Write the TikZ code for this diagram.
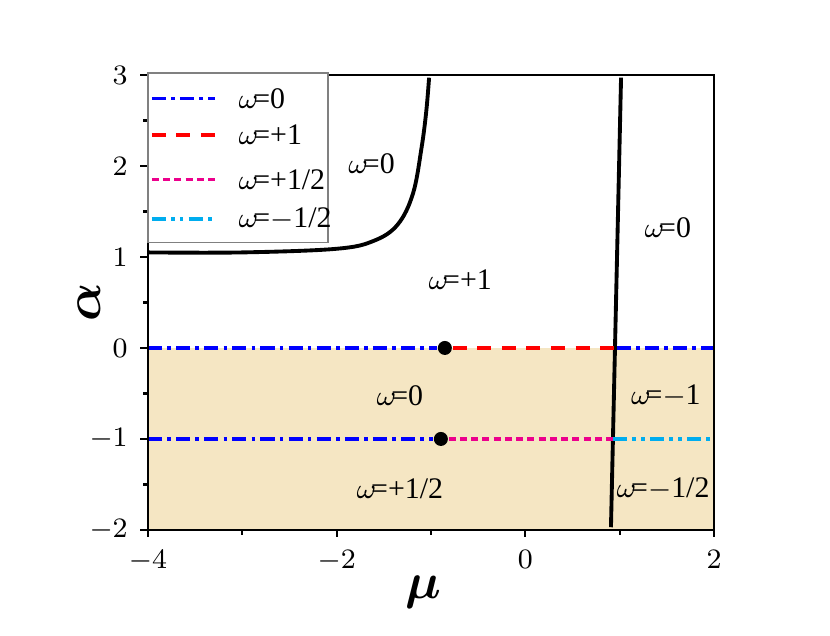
\documentclass[tikz,border=0pt]{standalone}
\usepackage{amsmath,amssymb,bm}
\usepackage{fontspec}
\setmainfont{Liberation Serif}
\usetikzlibrary{positioning}
\begin{document}
\begin{tikzpicture}[x=0.9433cm, y=0.91cm,
		% line styles for the phase boundaries
		zeroline/.style={blue, line width=1pt, dash pattern=on 4pt off 1.5pt on 1pt off 1.5pt},
		oneline/.style={red, line width=1pt, dash pattern=on 4pt off 3pt},
		halfline/.style={magenta, line width=1pt, dash pattern=on 2pt off 1.2pt},
		mhalfline/.style={cyan, line width=1pt, dash pattern=on 4pt off 1.5pt on 1pt off 1.5pt on 1pt off 1.5pt},
		border/.style={black, line width=1.1pt},
		region/.style={font=\fontsize{8.5}{10}\selectfont},
		ticklab/.style={font=\fontsize{8.5}{10}\selectfont},
		dot/.style={circle, fill=black, inner sep=0pt, minimum size=0.14cm},
		]
		\useasboundingbox (-5.569,-3.165) rectangle (3.230,3.824);
		% === shaded lower half ===
		\fill[fill={rgb,255:red,245;green,230;blue,195}] (-4,-2) rectangle (2,0);

		% === phase boundaries ===
		\draw[border] plot[smooth, tension=0.6] coordinates {(-4,1.05) (-3,1.05) (-2,1.09) (-1.6,1.18) (-1.35,1.36) (-1.19,1.7) (-1.1,2.2) (-1.05,2.6) (-1.02,2.97)};
		\coordinate (rb) at (0.908,-1.97);
		\coordinate (rt) at (1.015,2.97);
		\draw[border] (rb) -- (rt);

		% === critical points ===
		\node[dot] (p0) at (-0.853,0) {};
		\node[dot] (p1) at (-0.895,-1) {};
		\coordinate (l0) at (-4,0);
		\coordinate (c0) at (0.97,0);
		\coordinate (r0) at (2,0);
		\coordinate (l1) at (-4,-1);
		\coordinate (c1) at (0.93,-1);
		\coordinate (r1) at (2,-1);
		\draw[zeroline] (l0) -- (p0);
		\draw[oneline] (p0) -- (c0);
		\draw[zeroline] (c0) -- (r0);
		\draw[zeroline] (l1) -- (p1);
		\draw[halfline] (p1) -- (c1);
		\draw[mhalfline] (c1) -- (r1);

		% === frame and ticks ===
		\draw[line width=0.6pt] (-4,-2) rectangle (2,3);
		\foreach \m in {-4,-2,0,2}
			\draw[line width=0.6pt] (\m,-2) -- ++(0,-0.08) node[ticklab, below] {$\m$};
		\foreach \m in {-3,-1,1}
			\draw[line width=0.6pt] (\m,-2) -- ++(0,-0.05);
		\foreach \a in {-2,...,3}
			\draw[line width=0.6pt] (-4,\a) -- ++(-0.08,0) node[ticklab, left] {$\a$};
		\foreach \a in {-1.5,-0.5,0.5,1.5,2.5}
			\draw[line width=0.6pt] (-4,\a) -- ++(-0.05,0);
		\node[font=\fontsize{14}{16}\selectfont] (mu) at (-1.08,-2.68) {$\bm{\mu}$};
		\node[font=\fontsize{14}{16}\selectfont, rotate=90] (alpha) at (-4.62,0.5) {$\bm{\alpha}$};

		% === region labels ===
		\node[region] at (-1.63,2.02) {$\omega$\!=0};
		\node[region] at (-0.69,0.75) {$\omega$\!=+1};
		\node[region] at (1.51,1.32) {$\omega$\!=0};
		\node[region] at (-1.33,-0.53) {$\omega$\!=0};
		\node[region] at (1.49,-0.53) {$\omega$\!=$-$1};
		\node[region] at (-1.33,-1.55) {$\omega$\!=+1/2};
		\node[region] at (1.46,-1.55) {$\omega$\!=$-$1/2};

		% === legend ===
		\draw[fill=white, draw=gray, line width=0.5pt] (-4,1.16) rectangle (-2.09,3.02);
		\foreach \y/\s/\t [count=\i] in {2.74/zeroline/{0}, 2.34/oneline/{+1}, 1.85/halfline/{+1/2}, 1.42/mhalfline/{$-$1/2}} {
			\coordinate (la\i) at (-3.96,\y);
			\coordinate (lb\i) at (-3.29,\y);
			\draw[\s] (la\i) -- (lb\i);
			\node[region, anchor=west] (lt\i) at (-3.17,\y) {$\omega$\!=\t};
		}
	\end{tikzpicture}
\end{document}
